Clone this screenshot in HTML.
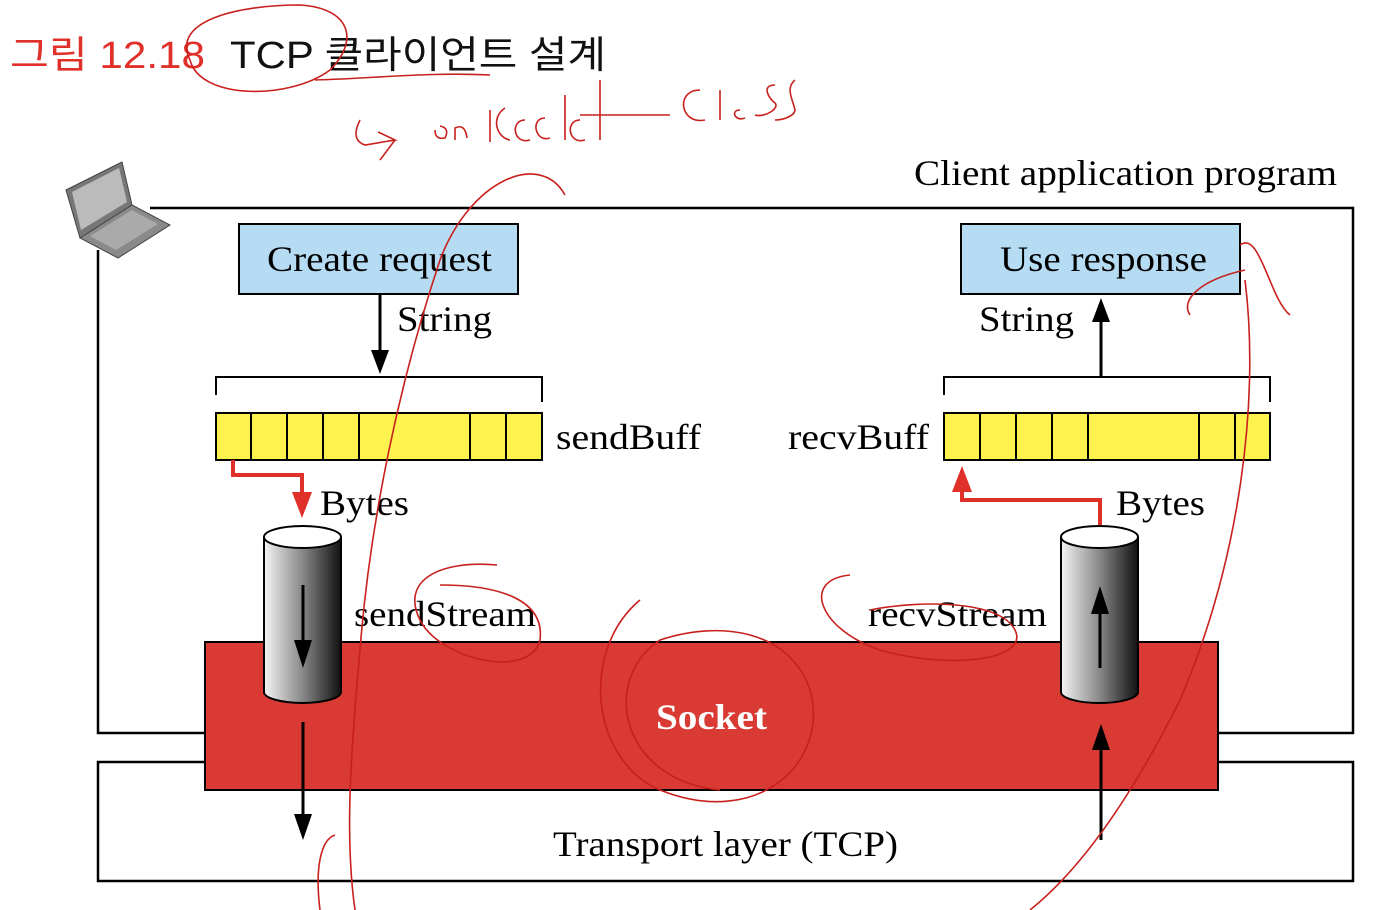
<!DOCTYPE html>
<html><head><meta charset="utf-8"><style>
html,body{margin:0;padding:0;background:#fff;width:1384px;height:910px;overflow:hidden}
</style></head><body>
<svg width="1384" height="910" viewBox="0 0 1384 910" xmlns="http://www.w3.org/2000/svg">
<defs>
<linearGradient id="cyl" x1="0" x2="1" y1="0" y2="0">
<stop offset="0" stop-color="#f4f4f4"/><stop offset="0.5" stop-color="#888"/><stop offset="1" stop-color="#111"/>
</linearGradient>
</defs>
<text x="10" y="68" font-family="Liberation Sans, Noto Sans CJK KR, sans-serif" font-size="38" fill="#e0302a" textLength="195" lengthAdjust="spacingAndGlyphs">그림 12.18</text>
<text x="230" y="68" font-family="Liberation Sans, Noto Sans CJK KR, sans-serif" font-size="38" fill="#111" textLength="376" lengthAdjust="spacingAndGlyphs">TCP 클라이언트 설계</text>

<g font-family="Liberation Serif, serif" fill="#000">
<text x="914" y="185" font-size="36" textLength="423" lengthAdjust="spacingAndGlyphs">Client application program</text>
</g>
<path d="M98 250 V733 H205 M1218 733 H1353 V208 H150" fill="none" stroke="#000" stroke-width="2.5"/>
<path d="M205 762 H98 V881 H1353 V762 H1218" fill="none" stroke="#000" stroke-width="2.5"/>
<rect x="205" y="642" width="1013" height="148" fill="#d93a33" stroke="#000" stroke-width="2"/>
<text x="656" y="729" font-family="Liberation Serif, serif" font-weight="bold" font-size="36" fill="#fff" textLength="111" lengthAdjust="spacingAndGlyphs">Socket</text>
<text x="553" y="856" font-family="Liberation Serif, serif" font-size="36" textLength="345" lengthAdjust="spacingAndGlyphs">Transport layer (TCP)</text>

<rect x="239" y="224" width="279" height="70" fill="#b6dcf4" stroke="#000" stroke-width="2"/>
<text x="267" y="271" font-family="Liberation Serif, serif" font-size="36" textLength="225" lengthAdjust="spacingAndGlyphs">Create request</text>
<rect x="961" y="224" width="279" height="70" fill="#b6dcf4" stroke="#000" stroke-width="2"/>
<text x="1000" y="271" font-family="Liberation Serif, serif" font-size="36" textLength="207" lengthAdjust="spacingAndGlyphs">Use response</text>

<g font-family="Liberation Serif, serif" font-size="36">
<text x="397" y="331" textLength="95" lengthAdjust="spacingAndGlyphs">String</text>
<text x="979" y="331" textLength="95" lengthAdjust="spacingAndGlyphs">String</text>
<text x="556" y="449" textLength="145" lengthAdjust="spacingAndGlyphs">sendBuff</text>
<text x="788" y="449" textLength="141" lengthAdjust="spacingAndGlyphs">recvBuff</text>
<text x="320" y="515" textLength="89" lengthAdjust="spacingAndGlyphs">Bytes</text>
<text x="1116" y="515" textLength="89" lengthAdjust="spacingAndGlyphs">Bytes</text>
<text x="354" y="626" textLength="182" lengthAdjust="spacingAndGlyphs">sendStream</text>
<text x="868" y="626" textLength="179" lengthAdjust="spacingAndGlyphs">recvStream</text>
</g>

<path d="M380 294 V362" stroke="#000" stroke-width="3"/>
<path d="M371 350 L380 374 L389 350 Z" fill="#000"/>
<path d="M1101 377 V310" stroke="#000" stroke-width="3"/>
<path d="M1092 322 L1101 298 L1110 322 Z" fill="#000"/>
<path d="M303 722 V826" stroke="#000" stroke-width="3"/>
<path d="M294 814 L303 840 L312 814 Z" fill="#000"/>
<path d="M1101 840 V738" stroke="#000" stroke-width="3"/>
<path d="M1092 750 L1101 724 L1110 750 Z" fill="#000"/>

<path d="M216 395 V377 H542 V402" fill="none" stroke="#000" stroke-width="2"/>
<path d="M944 395 V377 H1270 V402" fill="none" stroke="#000" stroke-width="2"/>

<rect x="216" y="413" width="326" height="47" fill="#fdf24e" stroke="#000" stroke-width="2"/>
<path d="M251 413V460M287 413V460M323 413V460M359 413V460M470 413V460M506 413V460" stroke="#000" stroke-width="2"/>
<rect x="944" y="413" width="326" height="47" fill="#fdf24e" stroke="#000" stroke-width="2"/>
<path d="M980 413V460M1016 413V460M1052 413V460M1088 413V460M1199 413V460M1235 413V460" stroke="#000" stroke-width="2"/>

<path d="M233 460 V475 H302 V505" fill="none" stroke="#e0302a" stroke-width="4"/>
<path d="M292 492 L302 518 L312 492 Z" fill="#e0302a"/>
<path d="M1100 530 V500 H962 V478" fill="none" stroke="#e0302a" stroke-width="4"/>
<path d="M952 492 L962 466 L972 492 Z" fill="#e0302a"/>

<g stroke="#000" stroke-width="2">
<path d="M264 537 V692 A38.5 11 0 0 0 341 692 V537" fill="url(#cyl)"/>
<ellipse cx="302.5" cy="537" rx="38.5" ry="11" fill="#fff"/>
<path d="M1061 537 V692 A38.5 11 0 0 0 1138 692 V537" fill="url(#cyl)"/>
<ellipse cx="1099.5" cy="537" rx="38.5" ry="11" fill="#fff"/>
</g>
<path d="M303 585 V650" stroke="#000" stroke-width="3"/>
<path d="M294 640 L303 668 L312 640 Z" fill="#000"/>
<path d="M1100 668 V605" stroke="#000" stroke-width="3"/>
<path d="M1091 614 L1100 586 L1109 614 Z" fill="#000"/>

<g>
<path d="M66 190 L122 162 L132 205 L80 238 Z" fill="#777" stroke="#444"/>
<path d="M72 192 L119 168 L127 202 L81 230 Z" fill="#bbb"/>
<path d="M80 238 L132 205 L170 225 L118 258 Z" fill="#8a8a8a" stroke="#444"/>
<path d="M90 236 L132 210 L158 224 L116 250 Z" fill="#aaa"/>
</g>

<g fill="none" stroke="#c8201c" stroke-width="1.6">
<path d="M190 60 C 170 20, 240 5, 300 5 C 350 8, 360 40, 330 70 C 290 100, 200 100, 190 60"/>
<path d="M315 80 C 380 78, 430 72, 490 75"/>
<path d="M360 120 Q 350 140 365 145 L395 140 L378 132 M395 140 L380 160"/>
<path d="M435 130 q 0 10 10 8 q 5 -10 -5 -12 M455 140 v-12 q 10 -5 12 10"/>
<path d="M490 110 v32 M505 108 c -15 10 -8 30 5 32 M525 120 c -15 0 -12 25 5 20 M545 118 c -15 0 -10 25 5 20 M565 95 v45 M580 120 c -15 0 -12 25 5 20 M600 80 v60 M580 115 H 670"/>
<path d="M700 90 c -25 0 -20 35 5 30 M720 90 v30 M740 110 c -10 0 -5 12 5 8 M775 85 c -15 0 -5 15 0 18 c 5 5 -10 15 -20 12 M795 80 c -10 8 -2 20 0 30 c 0 5 -10 10 -20 10"/>
<path d="M565 195 C 540 150, 470 180, 440 260 C 400 380, 370 520, 360 650 C 350 760, 345 840, 355 910"/>
<path d="M320 910 C 315 870, 320 840, 335 835"/>
<path d="M1240 245 C 1260 230, 1270 300, 1290 315 M1245 270 C 1200 280, 1180 300, 1190 315 M1245 280 C 1260 400, 1240 560, 1180 700 C 1130 800, 1080 870, 1030 910"/>
<path d="M640 600 C 580 650, 590 760, 660 790 C 760 830, 830 760, 810 690 C 790 630, 720 620, 660 640 C 600 680, 620 780, 720 790"/>
<path d="M497 565 C 440 560, 400 580, 420 620 C 440 660, 530 680, 540 640 C 545 600, 500 585, 440 585"/>
<path d="M850 575 C 800 580, 820 630, 880 650 C 950 670, 1030 660, 1015 630 C 1000 600, 920 600, 870 610"/>
</g>
</svg>
</body></html>
